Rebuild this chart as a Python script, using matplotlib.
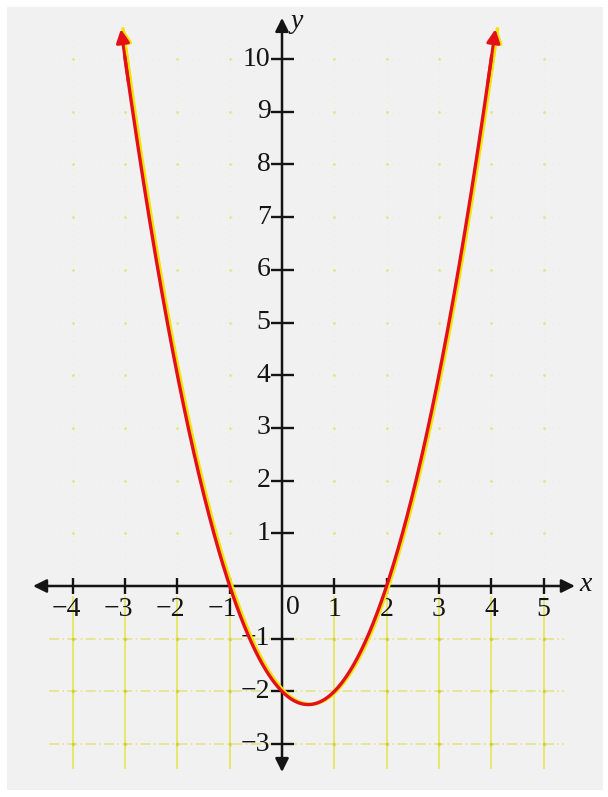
import matplotlib
matplotlib.use("Agg")
import matplotlib.pyplot as plt
import matplotlib.transforms as mtransforms
from matplotlib.patches import Rectangle
import numpy as np

# y = x^2 - x - 2, drawn between the two arrow tips
coeffs = [1, -1, -2]
x_start, x_end = -3.08, 4.08

x_ticks = [-4, -3, -2, -1, 1, 2, 3, 4, 5]
x_tick_labels = ["\u22124", "\u22123", "\u22122", "\u22121", "1", "2", "3", "4", "5"]
y_ticks = [-3, -2, -1, 1, 2, 3, 4, 5, 6, 7, 8, 9, 10]
y_tick_labels = ["\u22123", "\u22122", "\u22121", "1", "2", "3", "4", "5", "6", "7", "8", "9", "10"]
grid_x = [-4, -3, -2, -1, 0, 1, 2, 3, 4, 5]
grid_y_upper = [1, 2, 3, 4, 5, 6, 7, 8, 9, 10]
grid_y_lower = [-1, -2, -3]

SERIF = ["Liberation Serif", "DejaVu Serif"]
RED = "#e3101a"
YELLOW = "#f2e400"
GRID = "#d6d60e"
INK = "#141414"

fig = plt.figure(figsize=(6.08, 7.97), dpi=100)
fig.patch.set_facecolor("white")
fig.add_artist(Rectangle((7 / 608, 1 - 790 / 797), 596 / 608, 783 / 797,
                         transform=fig.transFigure, facecolor="#f1f1f1",
                         edgecolor="none", zorder=0))

ax = fig.add_axes([0, 0, 1, 1])
ax.set_xlim(-5.392, 6.233)
ax.set_ylim(-4.004, 11.12)
ax.axis("off")
ax.patch.set_alpha(0)

# faint grid on the upper part: dotted lines with dots at the crossings
for gx in grid_x:
    ax.plot([gx, gx], [0.2, 10.4], color=GRID, lw=0.8, alpha=0.12,
            ls=(0, (1, 4)), zorder=1)
for gy in grid_y_upper:
    ax.plot([-4.4, 5.4], [gy, gy], color=GRID, lw=0.8, alpha=0.10,
            ls=(0, (1, 5)), zorder=1)
gxx, gyy = np.meshgrid([g for g in grid_x if g != 0], grid_y_upper)
ax.scatter(gxx.ravel(), gyy.ravel(), s=4, color=GRID, alpha=0.45,
           lw=0, zorder=1)

# stronger grid below the x-axis
for gx in grid_x:
    ax.plot([gx, gx], [-0.2, -3.45], color="#e0e000", lw=1.3, alpha=0.6, zorder=1)
for gy in grid_y_lower:
    ax.plot([-4.45, 5.4], [gy, gy], color=GRID, lw=1.2, alpha=0.45,
            ls=(0, (6, 2, 1, 2)), zorder=1)
lx, ly = np.meshgrid([g for g in grid_x if g != 0], grid_y_lower)
ax.scatter(lx.ravel(), ly.ravel(), s=7, color="#b8b800", alpha=0.4,
           lw=0, zorder=1)

# coordinate axes with arrowheads at both ends
axis_arrow = dict(arrowstyle="<|-|>", color=INK, lw=1.8,
                  mutation_scale=20, shrinkA=0, shrinkB=0)
ax.annotate("", xy=(5.6, 0), xytext=(-4.76, 0), arrowprops=axis_arrow, zorder=3)
ax.annotate("", xy=(0, 10.78), xytext=(0, -3.53), arrowprops=axis_arrow, zorder=3)

ax.vlines(x_ticks, -0.16, 0.16, color=INK, lw=1.7, zorder=3)
ax.hlines(y_ticks, -0.22, 0.22, color=INK, lw=1.7, zorder=3)

font = dict(family=SERIF, fontsize=20, color=INK)
for xv, lab in zip(x_ticks, x_tick_labels):
    if xv < 0:
        ax.text(xv + 0.15, -0.2, lab, ha="right", va="top", **font)
    else:
        ax.text(xv, -0.2, lab, ha="center", va="top", **font)
ax.text(0.08, -0.18, "0", ha="left", va="top", **font)
for yv, lab in zip(y_ticks, y_tick_labels):
    ax.text(-0.22, yv, lab, ha="right", va="center", **font)

ax.text(0.15, 10.72, "y", ha="left", va="center", style="italic", **font)
ax.text(5.68, 0.02, "x", ha="left", va="center", style="italic", **font)

# the parabola: a yellow copy shifted slightly right, then the red curve
xs = np.linspace(x_start, x_end, 600)
ys = np.polyval(coeffs, xs)
shadow = mtransforms.offset_copy(ax.transData, fig=fig, x=2.0, y=0.3, units="dots")

ax.plot(xs, ys, color=YELLOW, lw=2.6, transform=shadow, zorder=4,
        solid_capstyle="round")
ax.plot(xs[6:-6], ys[6:-6], color=RED, lw=2.4, zorder=5, solid_capstyle="round")

for i_tip, i_tail in ((0, 12), (-1, -13)):
    tip = (xs[i_tip], ys[i_tip])
    tail = (xs[i_tail], ys[i_tail])
    ax.annotate("", xy=tip, xytext=tail, xycoords=shadow, textcoords=shadow,
                arrowprops=dict(arrowstyle="-|>", color=YELLOW, lw=2.4,
                                mutation_scale=20, shrinkA=0, shrinkB=0),
                zorder=4)
    ax.annotate("", xy=tip, xytext=tail,
                arrowprops=dict(arrowstyle="-|>", color=RED, lw=2.2,
                                mutation_scale=20, shrinkA=0, shrinkB=0),
                zorder=5)

fig.savefig("out.png", dpi=100)
